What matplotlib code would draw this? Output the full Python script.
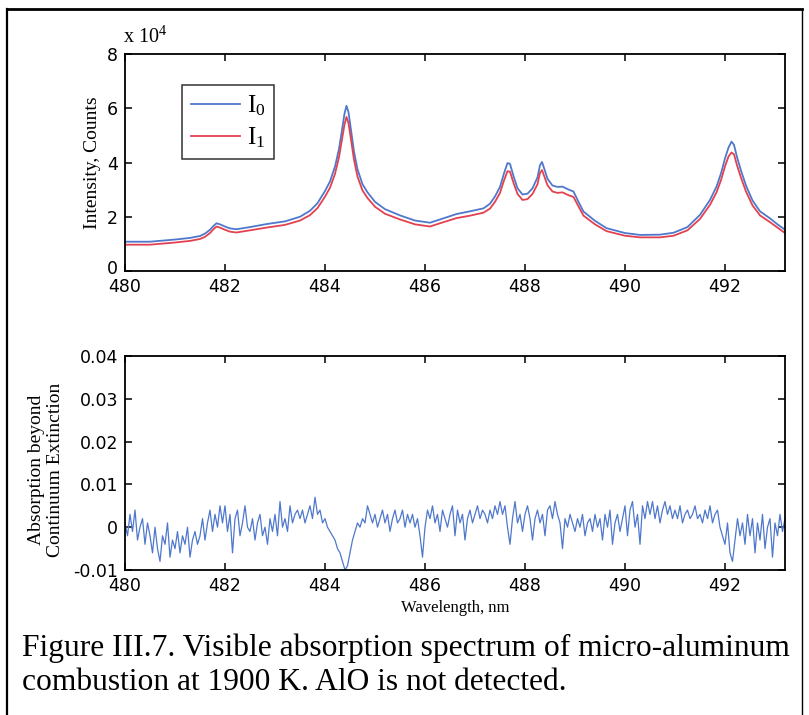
import numpy as np
import matplotlib
matplotlib.use("Agg")
import matplotlib.pyplot as plt
from matplotlib.lines import Line2D
from matplotlib.transforms import ScaledTranslation

# ---------------- data ----------------
# Top panel: flash-lamp intensity spectra (counts, in units of 1e4)
wavelength_top = [480.0, 480.5, 481.0, 481.3, 481.5, 481.6, 481.7, 481.77, 481.83, 481.9,
                  482.0, 482.1, 482.23, 482.5, 482.83, 483.2, 483.5, 483.7, 483.85, 484.0,
                  484.1, 484.2, 484.28, 484.34, 484.39, 484.43, 484.47, 484.52, 484.58, 484.65,
                  484.75, 484.85, 485.0, 485.2, 485.5, 485.8, 486.1, 486.3, 486.63, 486.9,
                  487.17, 487.3, 487.4, 487.5, 487.58, 487.65, 487.7, 487.77, 487.85, 487.95,
                  488.05, 488.15, 488.25, 488.3, 488.34, 488.38, 488.45, 488.55, 488.65, 488.75,
                  488.85, 488.97, 489.07, 489.17, 489.4, 489.63, 490.0, 490.3, 490.7, 490.97,
                  491.25, 491.5, 491.7, 491.83, 491.92, 492.0, 492.07, 492.13, 492.18, 492.24,
                  492.32, 492.42, 492.55, 492.7, 492.9, 493.05, 493.2]
I0 = [1.08, 1.08, 1.16, 1.22, 1.29, 1.38, 1.52, 1.66, 1.76, 1.72,
      1.64, 1.57, 1.54, 1.62, 1.73, 1.83, 2.00, 2.22, 2.50, 2.95,
      3.30, 3.85, 4.50, 5.20, 5.80, 6.09, 5.85, 5.20, 4.40, 3.75,
      3.20, 2.90, 2.55, 2.28, 2.05, 1.86, 1.78, 1.90, 2.10, 2.20,
      2.31, 2.48, 2.75, 3.10, 3.60, 3.98, 3.95, 3.50, 3.05, 2.82,
      2.85, 3.05, 3.45, 3.90, 4.02, 3.80, 3.40, 3.15, 3.10, 3.11,
      3.02, 2.93, 2.55, 2.19, 1.85, 1.58, 1.40, 1.33, 1.34, 1.41,
      1.62, 2.07, 2.62, 3.11, 3.60, 4.15, 4.55, 4.77, 4.65, 4.20,
      3.70, 3.15, 2.60, 2.20, 1.94, 1.72, 1.52]
I1 = [0.97, 0.97, 1.05, 1.11, 1.18, 1.26, 1.40, 1.54, 1.64, 1.60,
      1.52, 1.45, 1.42, 1.50, 1.60, 1.70, 1.86, 2.06, 2.32, 2.74,
      3.07, 3.58, 4.20, 4.85, 5.40, 5.68, 5.45, 4.85, 4.10, 3.48,
      2.97, 2.69, 2.37, 2.11, 1.90, 1.72, 1.64, 1.76, 1.95, 2.04,
      2.15, 2.30, 2.55, 2.88, 3.34, 3.68, 3.66, 3.25, 2.84, 2.62,
      2.65, 2.84, 3.20, 3.62, 3.72, 3.52, 3.16, 2.93, 2.88, 2.90,
      2.81, 2.73, 2.38, 2.04, 1.72, 1.47, 1.30, 1.24, 1.24, 1.30,
      1.50, 1.92, 2.44, 2.90, 3.35, 3.86, 4.22, 4.37, 4.30, 3.90,
      3.44, 2.93, 2.42, 2.05, 1.80, 1.60, 1.40]

# Bottom panel: absorption beyond continuum extinction (units of 1e-3), 0.05 nm steps from 480.0
absorption_milli = [
    1, -2, 3, -1, 4, -3, 0, 2, -4, 1,
    -2, -6, 0, -5, -8, -2, -4, 1, -7, -3,
    -5, -1, -6, -2, -4, 0, -7, -3, -1, -4,
    -2, 2, -3, 1, 4, -1, 3, 0, 5, 1,
    5, -1, 3, -6, 2, 4, -2, 1, 5, 0,
    -1, 2, -3, 1, 3, -2, 0, -4, 2, -1,
    3, -2, 6, 0, 2, -1, 5, 1, 3, 4,
    2, 4, 1, 3, 5, 2, 7, 3, 4, 1,
    2, 0, -1, -2, -3, -5, -6, -8, -10, -9,
    -6, -3, -1, 1, 0, 2, 1, 5, 3, 1,
    3, 0, 2, 4, 1, 3, -1, 2, 4, 1,
    2, 4, 0, 3, 1, 3, 0, 2, -2, -7,
    0, 4, 2, 5, 1, 3, -1, 4, 2, 0,
    3, 5, -2, 4, 1, 3, -3, 2, 4, 1,
    3, 5, 2, 4, 3, 1, 4, 2, 5, 3,
    6, 3, 5, 0, -4, 2, 6, 1, 3, -1,
    3, 5, 2, -3, 2, 4, 1, 3, -2, 4,
    5, 2, 6, 3, 1, -5, 2, 0, 3, 1,
    -1, 2, 0, 3, -2, 1, 2, -1, 3, 0,
    2, -3, 3, 0, 4, -4, 1, 3, -1, 2,
    5, -2, 4, 6, 0, 3, -4, 5, 2, 6,
    3, 6, 2, 5, 1, 4, 6, 3, 5, 2,
    4, 2, 5, 1, 3, 4, 2, 3, 5, 2,
    3, 1, 4, 2, 5, 1, 3, 4, 0, -2,
    -4, 1, -6, -8, -3, 2, -2, 1, -4, 3,
    -2, 2, -6, 1, -3, 3, -5, 0, 2, -7,
    1, -2, 3, -1, 2]
wavelength_bottom = np.linspace(480.0, 493.2, len(absorption_milli))

x_ticks = [480, 482, 484, 486, 488, 490, 492]
x_tick_labels = ["480", "482", "484", "486", "488", "490", "492"]
top_y_ticks = [0, 2, 4, 6, 8]
top_y_labels = ["0", "2", "4", "6", "8"]
bot_y_ticks = [-0.01, 0.0, 0.01, 0.02, 0.03, 0.04]
bot_y_labels = ["-0.01", "0", "0.01", "0.02", "0.03", "0.04"]

caption_lines = ["Figure III.7. Visible absorption spectrum of micro-aluminum",
                 "combustion at 1900 K. AlO is not detected."]

# ---------------- style ----------------
BLUE = "#4f78cc"
RED = "#e3414f"
SERIF = ["Liberation Serif", "DejaVu Serif"]
TICKFONT = ["DejaVu Sans"]

plt.rcParams["mathtext.fontset"] = "custom"
plt.rcParams["mathtext.rm"] = "Liberation Serif"
plt.rcParams["mathtext.it"] = "Liberation Serif:italic"

W, H = 809, 715
fig = plt.figure(figsize=(W / 100, H / 100), dpi=100)
fig.patch.set_facecolor("white")


def fx(px):
    return px / W


def fy(py):
    return 1 - py / H


def style_axes(ax):
    for s in ax.spines.values():
        s.set_linewidth(1.3)
        s.set_color("black")
    ax.tick_params(direction="in", length=5, width=1.1, top=True, right=True,
                   labelsize=12.5, colors="black")
    ax.tick_params(axis="x", pad=5)
    ax.tick_params(axis="y", pad=5)
    for lab in ax.get_xticklabels() + ax.get_yticklabels():
        lab.set_family(TICKFONT)


# top axes
ax1 = fig.add_axes([fx(125), fy(271), fx(660), 217 / H])
ax1.plot(wavelength_top, I0, color=BLUE, lw=1.3, label=r"$\mathrm{I}_0$")
ax1.plot(wavelength_top, I1, color=RED, lw=1.3, label=r"$\mathrm{I}_1$")
ax1.set_xlim(480, 493.2)
ax1.set_ylim(0, 8)
ax1.set_xticks(x_ticks)
ax1.set_xticklabels(x_tick_labels)
ax1.set_yticks(top_y_ticks)
ax1.set_yticklabels(top_y_labels)
style_axes(ax1)
# nudge the bottom "0" label up a little so it clears the "480" label (as in the original)
zero_lab = ax1.get_yticklabels()[0]
zero_lab.set_transform(zero_lab.get_transform() + ScaledTranslation(0, 4 / 100, fig.dpi_scale_trans))
ax1.set_ylabel("Intensity, Counts", family=SERIF, fontsize=14, labelpad=4)
ax1.text(-0.003, 1.03, r"x 10$^4$", transform=ax1.transAxes, family=SERIF,
         fontsize=14.5, ha="left", va="bottom")
leg = ax1.legend(loc="upper left", bbox_to_anchor=((182 - 125) / 660, (271 - 85) / 217),
                 frameon=True, fancybox=False, edgecolor="black", fontsize=18,
                 handlelength=1.95, labelspacing=0.3, borderpad=0.35, handletextpad=0.3,
                 borderaxespad=0)
leg.get_frame().set_linewidth(1.1)

# bottom axes
ax2 = fig.add_axes([fx(125), fy(570), fx(660), 214 / H])
ax2.plot(wavelength_bottom, np.asarray(absorption_milli) / 1000.0, color=BLUE, lw=0.9)
ax2.set_xlim(480, 493.2)
ax2.set_ylim(-0.01, 0.04)
ax2.set_xticks(x_ticks)
ax2.set_xticklabels(x_tick_labels)
ax2.set_yticks(bot_y_ticks)
ax2.set_yticklabels(bot_y_labels)
style_axes(ax2)
ax2.set_ylabel("Absorption beyond\nContinuum Extinction", family=SERIF, fontsize=14,
               linespacing=1.1)
ax2.yaxis.set_label_coords(-0.093, 0.47)
ax2.set_xlabel("Wavelength, nm", family=SERIF, fontsize=12, labelpad=4)

# caption
fig.text(fx(22), fy(648), caption_lines[0], family=SERIF, fontsize=22.7,
         ha="left", va="center")
fig.text(fx(22), fy(683), caption_lines[1], family=SERIF, fontsize=22.7,
         ha="left", va="center")

# page frame
fig.add_artist(Line2D([fx(7), fx(802)], [fy(9), fy(9)], color="black", lw=2.0))
fig.add_artist(Line2D([fx(7), fx(7)], [fy(9), 0], color="black", lw=1.6))
fig.add_artist(Line2D([fx(802), fx(802)], [fy(9), 0], color="black", lw=1.0))

fig.savefig("out.png", dpi=100)
